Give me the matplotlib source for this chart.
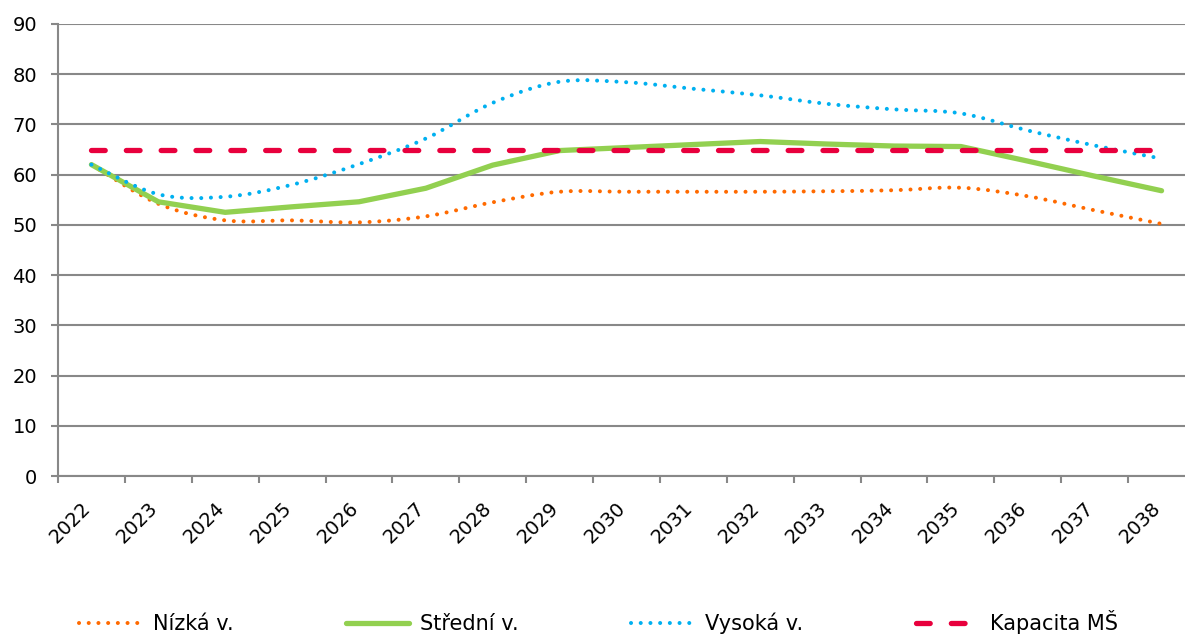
import numpy as np
import matplotlib
matplotlib.use("Agg")
import matplotlib.pyplot as plt
from matplotlib.path import Path
from matplotlib.patches import PathPatch
from matplotlib.lines import Line2D
import matplotlib.transforms as mtransforms

plt.rcParams['font.family'] = ['DejaVu Sans']

# Data
years = [str(y) for y in range(2022, 2039)]
nizka = [62.0, 54.2, 50.9, 50.9, 50.5, 51.7, 54.5, 56.6, 56.6, 56.6, 56.6, 56.7, 56.9, 57.4, 55.7, 52.9, 50.2]
stredni = [62.0, 54.6, 52.5, 53.6, 54.6, 57.3, 61.9, 64.8, 65.4, 66.0, 66.6, 66.1, 65.7, 65.6, 62.7, 59.7, 56.8]
vysoka = [62.0, 56.1, 55.6, 58.0, 62.1, 67.2, 74.3, 78.5, 78.4, 77.1, 75.8, 74.1, 73.0, 72.2, 68.8, 65.8, 63.2]
kapacita = [65] * 17

GRID = '#888888'
C_NIZ = '#FF6A00'
C_STR = '#92D050'
C_VYS = '#00B0F0'
C_KAP = '#E8003D'


def smooth_path(xs, ys):
    # Excel-like smoothed line: cubic Bezier segments through the data points
    pts = np.column_stack([xs, ys]).astype(float)
    n = len(pts)
    verts = [pts[0]]
    codes = [Path.MOVETO]
    for i in range(n - 1):
        p0 = pts[i - 1] if i > 0 else pts[i]
        p1 = pts[i]
        p2 = pts[i + 1]
        p3 = pts[i + 2] if i + 2 < n else pts[i + 1]
        c1 = p1 + (p2 - p0) / 6.0
        c2 = p2 - (p3 - p1) / 6.0
        verts += [c1, c2, p2]
        codes += [Path.CURVE4] * 3
    return Path(verts, codes)


x = np.arange(len(years))
dots = (0, (0.01, 2.4))
dashes = (0, (2.6, 4.0))

fig = plt.figure(figsize=(11.85, 6.35), dpi=100)
ax = fig.add_axes([58 / 1185, 159 / 635, 1137 / 1185, 452 / 635])

ax.add_patch(PathPatch(smooth_path(x, nizka), fill=False, edgecolor=C_NIZ, lw=2.9,
                       linestyle=dots, capstyle='round', zorder=3))
ax.plot(x, stredni, color=C_STR, lw=3.8, solid_capstyle='round', solid_joinstyle='round', zorder=3)
ax.add_patch(PathPatch(smooth_path(x, vysoka), fill=False, edgecolor=C_VYS, lw=2.9,
                       linestyle=dots, capstyle='round', zorder=3))
ax.plot(x, kapacita, color=C_KAP, lw=3.8, linestyle=dashes, dash_capstyle='round', zorder=4)

ax.set_xlim(-0.5, 16.5)
ax.set_ylim(0, 90)
ax.set_yticks(range(0, 91, 10))
ax.yaxis.grid(True, color=GRID, lw=1.5)
ax.set_axisbelow(True)

ax.set_xticks(x)
ax.set_xticklabels(years, rotation=45, ha='right', va='top')
ax.set_xticks(np.arange(-0.5, 17, 1), minor=True)
ax.tick_params(axis='x', which='major', length=0, pad=16, labelsize=14)
ax.tick_params(axis='x', which='minor', length=5, width=1.5, color=GRID)
ax.tick_params(axis='y', length=5, width=1.5, color=GRID, labelsize=14, pad=10)
offset = mtransforms.ScaledTranslation(3 / 100, 0, fig.dpi_scale_trans)
for lab in ax.get_xticklabels():
    lab.set_transform(lab.get_transform() + offset)

for s in ['top', 'right']:
    ax.spines[s].set_visible(False)
for s in ['left', 'bottom']:
    ax.spines[s].set_color(GRID)
    ax.spines[s].set_linewidth(1.5)

handles = [
    Line2D([], [], color=C_NIZ, lw=2.9, linestyle=dots, dash_capstyle='round'),
    Line2D([], [], color=C_STR, lw=3.8, solid_capstyle='round'),
    Line2D([], [], color=C_VYS, lw=2.9, linestyle=dots, dash_capstyle='round'),
    Line2D([], [], color=C_KAP, lw=3.8, linestyle=dashes, dash_capstyle='round'),
]
labels = ['Nízká v.', 'Střední v.', 'Vysoká v.', 'Kapacita MŠ']
fig.legend(handles, labels, loc='center', bbox_to_anchor=(0.505, 1 - 622 / 635), ncol=4,
           frameon=False, fontsize=15, handlelength=3.0, handletextpad=0.55,
           columnspacing=5.4)

fig.savefig('out.png', dpi=100)
